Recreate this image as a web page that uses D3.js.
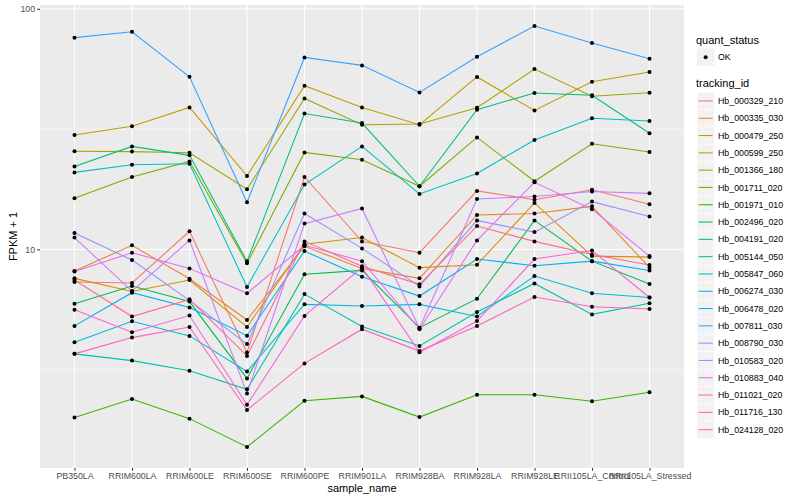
<!DOCTYPE html>
<html>
<head>
<meta charset="utf-8">
<script src="https://d3js.org/d3.v7.min.js"></script>
<style>
  body { margin: 0; background: #fff; }
  text { font-family: "Liberation Sans", Arial, Helvetica, sans-serif; }
  .axis text { fill: #4D4D4D; font-size: 8.8px; }
  .axis line { stroke: #333333; stroke-width: 1.07; }
  .axis path { display: none; }
  .title { fill: #000; font-size: 11px; }
  .legend-text { fill: #000; font-size: 8.8px; }
</style>
</head>
<body>
<svg width="800" height="500"></svg>
<script>
const samples = ["PB350LA", "RRIM600LA", "RRIM600LE", "RRIM600SE", "RRIM600PE", "RRIM901LA",
  "RRIM928BA", "RRIM928LA", "RRIM928LE", "RRII105LA_Control", "RRII105LA_Stressed"];

const trackingIds = ["Hb_000329_210", "Hb_000335_030", "Hb_000479_250", "Hb_000599_250",
  "Hb_001366_180", "Hb_001711_020", "Hb_001971_010", "Hb_002496_020", "Hb_004191_020",
  "Hb_005144_050", "Hb_005847_060", "Hb_006274_030", "Hb_006478_020", "Hb_007811_030",
  "Hb_008790_030", "Hb_010583_020", "Hb_010883_040", "Hb_011021_020", "Hb_011716_130",
  "Hb_024128_020"];

// FPKM + 1 per sample, same order as samples
const hb_000329_210 = [7.32, 7.25, 11.9, 3.73, 20.0, 10.8, 9.69, 17.5, 16.1, 17.7, 15.4];
const hb_000335_030 = [8.13, 10.4, 7.55, 5.09, 10.3, 8.34, 7.58, 13.9, 14.1, 15.1, 8.42];
const hb_000479_250 = [7.58, 6.68, 7.46, 4.76, 10.5, 11.2, 8.40, 8.64, 15.6, 9.38, 9.29];
const hb_000599_250 = [29.9, 32.5, 38.9, 20.2, 47.9, 38.9, 33.0, 52.1, 37.8, 49.8, 54.6];
const hb_001366_180 = [25.6, 25.5, 25.2, 17.8, 42.4, 33.0, 33.2, 38.8, 56.2, 43.3, 44.8];
const hb_001711_020 = [16.3, 20.0, 23.2, 8.75, 25.3, 23.6, 18.3, 29.2, 19.2, 27.5, 25.4];
const hb_001971_010 = [2.00, 2.39, 1.98, 1.51, 2.35, 2.45, 2.01, 2.49, 2.49, 2.34, 2.55];
const hb_002496_020 = [5.95, 7.04, 6.07, 2.91, 7.88, 8.18, 4.73, 6.24, 13.2, 8.94, 7.18];
const hb_004191_020 = [22.1, 26.8, 24.6, 8.92, 36.7, 33.5, 18.3, 38.1, 44.7, 43.7, 30.4];
const hb_005144_050 = [3.68, 3.45, 3.13, 2.62, 6.52, 4.78, 3.97, 5.49, 7.22, 5.37, 5.97];
const hb_005847_060 = [20.9, 22.5, 22.7, 6.98, 18.6, 26.8, 17.0, 20.7, 28.5, 35.1, 34.2];
const hb_006274_030 = [4.11, 5.03, 4.37, 3.11, 5.91, 5.82, 5.91, 5.26, 7.75, 6.57, 6.31];
const hb_006478_020 = [4.81, 6.61, 5.73, 4.38, 9.84, 7.70, 6.40, 9.12, 8.56, 8.94, 8.18];
const hb_007811_030 = [75.9, 80.3, 52.2, 15.7, 62.8, 58.2, 44.9, 63.2, 84.8, 72.1, 62.0];
const hb_008790_030 = [11.7, 9.03, 6.14, 4.04, 14.1, 10.1, 7.02, 13.2, 11.8, 15.8, 13.7];
const hb_010583_020 = [11.2, 6.71, 10.9, 2.52, 12.8, 14.8, 4.70, 16.2, 16.6, 17.4, 17.1];
const hb_010883_040 = [8.10, 9.69, 8.34, 6.57, 10.4, 8.94, 4.66, 10.9, 19.0, 14.7, 9.38];
const hb_011021_020 = [5.62, 4.53, 5.31, 2.26, 5.29, 8.42, 3.74, 5.04, 9.12, 9.90, 6.31];
const hb_011716_130 = [3.68, 4.30, 4.76, 2.15, 3.36, 4.66, 3.78, 4.81, 6.34, 5.78, 5.65];
const hb_024128_020 = [7.46, 5.26, 6.20, 3.61, 10.8, 8.52, 7.16, 12.5, 10.8, 9.53, 8.61];

const seriesValues = [hb_000329_210, hb_000335_030, hb_000479_250, hb_000599_250,
  hb_001366_180, hb_001711_020, hb_001971_010, hb_002496_020, hb_004191_020,
  hb_005144_050, hb_005847_060, hb_006274_030, hb_006478_020, hb_007811_030,
  hb_008790_030, hb_010583_020, hb_010883_040, hb_011021_020, hb_011716_130,
  hb_024128_020];

const yBreaks = [1, 10, 100];

// ggplot default hue palette for 20 levels
const palette = ["#F8766D", "#EA8331", "#D89000", "#C09B00", "#A3A500", "#7CAE00", "#39B600",
  "#00BB4E", "#00BF7D", "#00C1A3", "#00BFC4", "#00BAE0", "#00B0F6", "#35A2FF", "#9590FF",
  "#C77CFF", "#E76BF3", "#FA62DB", "#FF62BC", "#FF6C91"];

const series = trackingIds.map((id, i) => ({
  id: id,
  values: samples.map((s, j) => ({ sample: s, value: seriesValues[i][j] }))
}));

const svg = d3.select("svg");
const panel = { left: 40, right: 684, top: 5, bottom: 468 };

const x = d3.scalePoint()
  .domain(samples)
  .range([panel.left, panel.right])
  .padding(0.6);

// log scale, expanded 5% like ggplot
const allVals = seriesValues.flat();
const lo = Math.log10(d3.min(allVals)), hi = Math.log10(d3.max(allVals));
const pad = (hi - lo) * 0.05;
const y = d3.scaleLog()
  .domain([Math.pow(10, lo - pad), Math.pow(10, hi + pad)])
  .range([panel.bottom, panel.top]);

const color = d3.scaleOrdinal().domain(trackingIds).range(palette);

// panel background
svg.append("rect")
  .attr("x", panel.left).attr("y", panel.top)
  .attr("width", panel.right - panel.left)
  .attr("height", panel.bottom - panel.top)
  .attr("fill", "#EBEBEB");

const [d0, d1] = y.domain();
const majors = yBreaks.filter(b => b >= d0 && b <= d1);
const minors = d3.pairs(yBreaks).map(p => Math.sqrt(p[0] * p[1])).filter(b => b >= d0 && b <= d1);

const grid = svg.append("g");
grid.selectAll(".minor").data(minors).enter().append("line")
  .attr("x1", panel.left).attr("x2", panel.right)
  .attr("y1", d => y(d)).attr("y2", d => y(d))
  .attr("stroke", "#fff").attr("stroke-width", 0.53);
grid.selectAll(".major").data(majors).enter().append("line")
  .attr("x1", panel.left).attr("x2", panel.right)
  .attr("y1", d => y(d)).attr("y2", d => y(d))
  .attr("stroke", "#fff").attr("stroke-width", 1.07);
grid.selectAll(".vmajor").data(samples).enter().append("line")
  .attr("x1", d => x(d)).attr("x2", d => x(d))
  .attr("y1", panel.top).attr("y2", panel.bottom)
  .attr("stroke", "#fff").attr("stroke-width", 1.07);

// lines
const line = d3.line()
  .x(d => x(d.sample))
  .y(d => y(d.value));

svg.append("g")
  .selectAll("path")
  .data(series)
  .enter().append("path")
  .attr("d", d => line(d.values))
  .attr("fill", "none")
  .attr("stroke", d => color(d.id))
  .attr("stroke-width", 1.07);

// points
svg.append("g")
  .selectAll("g")
  .data(series)
  .enter().append("g")
  .selectAll("circle")
  .data(d => d.values)
  .enter().append("circle")
  .attr("cx", d => x(d.sample))
  .attr("cy", d => y(d.value))
  .attr("r", 2)
  .attr("fill", "#000");

// axes
svg.append("g")
  .attr("class", "axis")
  .attr("transform", `translate(0,${panel.bottom})`)
  .call(d3.axisBottom(x).tickSize(2.75).tickPadding(2.2));

svg.append("g")
  .attr("class", "axis")
  .attr("transform", `translate(${panel.left},0)`)
  .call(d3.axisLeft(y).tickValues(majors).tickFormat(d3.format("d")).tickSize(2.75).tickPadding(2.2));

svg.append("text")
  .attr("class", "title")
  .attr("x", (panel.left + panel.right) / 2)
  .attr("y", 492)
  .attr("text-anchor", "middle")
  .text("sample_name");

svg.append("text")
  .attr("class", "title")
  .attr("transform", `translate(17,${(panel.top + panel.bottom) / 2}) rotate(-90)`)
  .attr("text-anchor", "middle")
  .text("FPKM + 1");

// legends
const leg = svg.append("g").attr("transform", "translate(696,0)");
const keySize = 17.3;

leg.append("text").attr("class", "title").attr("x", 0).attr("y", 44).text("quant_status");
leg.append("rect")
  .attr("x", 1).attr("y", 48.5).attr("width", keySize).attr("height", keySize)
  .attr("fill", "#F2F2F2");
leg.append("circle").attr("cx", 1 + keySize / 2).attr("cy", 48.5 + keySize / 2).attr("r", 2).attr("fill", "#000");
leg.append("text").attr("class", "legend-text").attr("x", 22).attr("y", 60.3).text("OK");

leg.append("text").attr("class", "title").attr("x", 0).attr("y", 87).text("tracking_id");

const item = leg.selectAll(".item")
  .data(trackingIds)
  .enter().append("g")
  .attr("transform", (d, i) => `translate(1,${92.3 + i * keySize})`);

item.append("rect")
  .attr("width", keySize).attr("height", keySize)
  .attr("fill", "#F2F2F2")
  .attr("stroke", "#fff").attr("stroke-width", 0.5);
item.append("line")
  .attr("x1", 1.7).attr("x2", keySize - 1.7)
  .attr("y1", keySize / 2).attr("y2", keySize / 2)
  .attr("stroke", d => color(d))
  .attr("stroke-width", 1.07);
item.append("text")
  .attr("class", "legend-text")
  .attr("x", 21)
  .attr("y", keySize / 2 + 3.1)
  .text(d => d);
</script>
</body>
</html>
